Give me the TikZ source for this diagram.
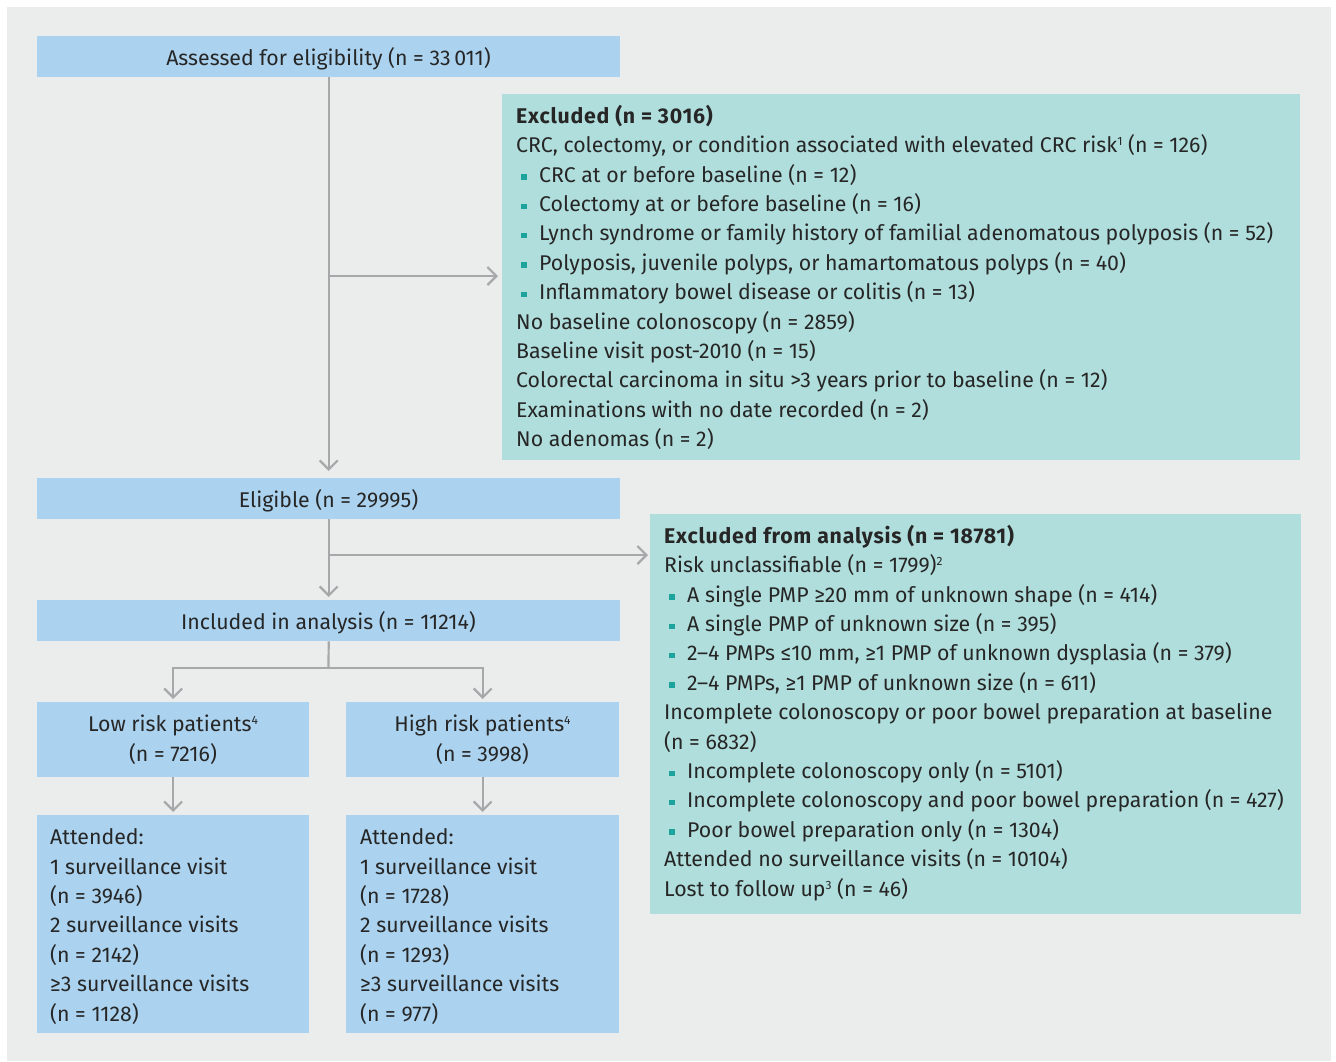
\documentclass[tikz,border=0pt]{standalone}
\usepackage{fontspec}
\setmainfont{Fira Sans}
\usetikzlibrary{arrows.meta}
\definecolor{bg}{HTML}{EBECEC}
\definecolor{bluebox}{HTML}{ABD3EF}
\definecolor{tealbox}{HTML}{B0DEDC}
\definecolor{conn}{HTML}{A7A8AA}
\definecolor{bul}{HTML}{1BA39C}
\definecolor{txt}{HTML}{262626}
\newcommand\LLines[1]{\vtop{\halign{##\hfil\cr#1\crcr}}}
\newcommand\CLines[1]{\vtop{\halign{\hfil##\hfil\cr#1\crcr}}}
\newcommand\bit{\hspace*{5pt}\textcolor{bul}{\rule[2.5pt]{5.5pt}{5.5pt}}\hspace{12.5pt}}
\newcommand\sups[1]{\raisebox{7pt}{\fontsize{12}{12}\selectfont #1}}
\newcommand\ttl[1]{{\bfseries\addfontfeature{LetterSpace=3.6}#1}}
\tikzset{
  box/.style={rectangle, inner sep=0pt, anchor=north west},
  bbox/.style={box, fill=bluebox},
  tbox/.style={box, fill=tealbox},
  lbl/.style={inner sep=0pt, anchor=base west, text=txt, font=\fontsize{21.3}{29.4}\selectfont},
  clbl/.style={lbl, anchor=base},
  cline/.style={draw=conn, line width=2.2pt},
  arr/.style={cline, -{Straight Barb[length=9pt,width=18pt]}}
}
\begin{document}
\begin{tikzpicture}[x=1pt,y=-1pt]
\useasboundingbox (0,0) rectangle (1336,1061);
\fill[bg] (7,7) rectangle (1331,1061);
% boxes
\node[bbox, minimum width=583pt, minimum height=41pt] (assessed) at (37,36) {};
\node[clbl] (assessed-t) at (328.5,65.7) {Assessed for eligibility (n = 33\,011)};

\node[tbox, minimum width=798pt, minimum height=366pt] (excl1) at (502,94) {};
\node[lbl] (excl1-t) at (516,123.3) {\LLines{%
\ttl{Excluded (n = 3016)}\cr
CRC, colectomy, or condition associated with elevated CRC risk\sups{1} (n = 126)\cr
\bit CRC at or before baseline (n = 12)\cr
\bit Colectomy at or before baseline (n = 16)\cr
\bit Lynch syndrome or family history of familial adenomatous polyposis (n = 52)\cr
\bit Polyposis, juvenile polyps, or hamartomatous polyps (n = 40)\cr
\bit Inflammatory bowel disease or colitis (n = 13)\cr
No baseline colonoscopy (n = 2859)\cr
Baseline visit post-2010 (n = 15)\cr
Colorectal carcinoma in situ >3 years prior to baseline (n = 12)\cr
Examinations with no date recorded (n = 2)\cr
No adenomas (n = 2)}};

\node[bbox, minimum width=583pt, minimum height=41pt] (elig) at (37,478) {};
\node[clbl] (elig-t) at (328.5,507.5) {Eligible (n = 29995)};

\node[tbox, minimum width=651pt, minimum height=400pt] (excl2) at (650,514) {};
\node[lbl] (excl2-t) at (664,543.3) {\LLines{%
\ttl{Excluded from analysis (n = 18781)}\cr
Risk unclassifiable (n = 1799)\sups{2}\cr
\bit A single PMP ≥20 mm of unknown shape (n = 414)\cr
\bit A single PMP of unknown size (n = 395)\cr
\bit 2–4 PMPs ≤10 mm, ≥1 PMP of unknown dysplasia (n = 379)\cr
\bit 2–4 PMPs, ≥1 PMP of unknown size (n = 611)\cr
Incomplete colonoscopy or poor bowel preparation at baseline\cr
(n = 6832)\cr
\bit Incomplete colonoscopy only (n = 5101)\cr
\bit Incomplete colonoscopy and poor bowel preparation (n = 427)\cr
\bit Poor bowel preparation only (n = 1304)\cr
Attended no surveillance visits (n = 10104)\cr
Lost to follow up\sups{3} (n = 46)}};

\node[bbox, minimum width=583pt, minimum height=41pt] (incl) at (37,600) {};
\node[clbl] (incl-t) at (328.5,629.5) {Included in analysis (n = 11214)};

\node[bbox, minimum width=272pt, minimum height=75pt] (low) at (37,702) {};
\node[clbl] (low-t) at (173,731.7) {\CLines{Low risk patients\sups{4}\cr (n = 7216)}};
\node[bbox, minimum width=273pt, minimum height=75pt] (high) at (346,702) {};
\node[clbl] (high-t) at (482.5,731.7) {\CLines{High risk patients\sups{4}\cr (n = 3998)}};

\node[bbox, minimum width=272pt, minimum height=218pt] (att1) at (37,815) {};
\node[lbl] (att1-t) at (50,844.7) {\LLines{Attended:\cr 1 surveillance visit\cr (n = 3946)\cr 2 surveillance visits\cr (n = 2142)\cr ≥3 surveillance visits\cr (n = 1128)}};
\node[bbox, minimum width=273pt, minimum height=218pt] (att2) at (346,815) {};
\node[lbl] (att2-t) at (360,844.7) {\LLines{Attended:\cr 1 surveillance visit\cr (n = 1728)\cr 2 surveillance visits\cr (n = 1293)\cr ≥3 surveillance visits\cr (n = 977)}};

% connectors
\coordinate (j1) at (328.5,276);
\coordinate (j2) at (328.5,555);
\coordinate (j3) at (328.5,668);
\draw[arr, shorten >=7pt] (assessed.south) -- (elig.north);
\draw[arr, shorten >=4pt] (j1) -- (j1 -| excl1.west);
\draw[arr, shorten >=3pt] (elig.south) -- (incl.north);
\draw[arr, shorten >=2pt] (j2) -- (j2 -| excl2.west);
\draw[cline] (incl.south) -- (j3);
\draw[arr, shorten >=3pt] (j3) -| (low.north);
\draw[arr, shorten >=3pt] (j3) -| (high.north);
\draw[arr, shorten >=3pt] (low.south) -- (att1.north);
\draw[arr, shorten >=3pt] (high.south) -- (att2.north);
\end{tikzpicture}
\end{document}
